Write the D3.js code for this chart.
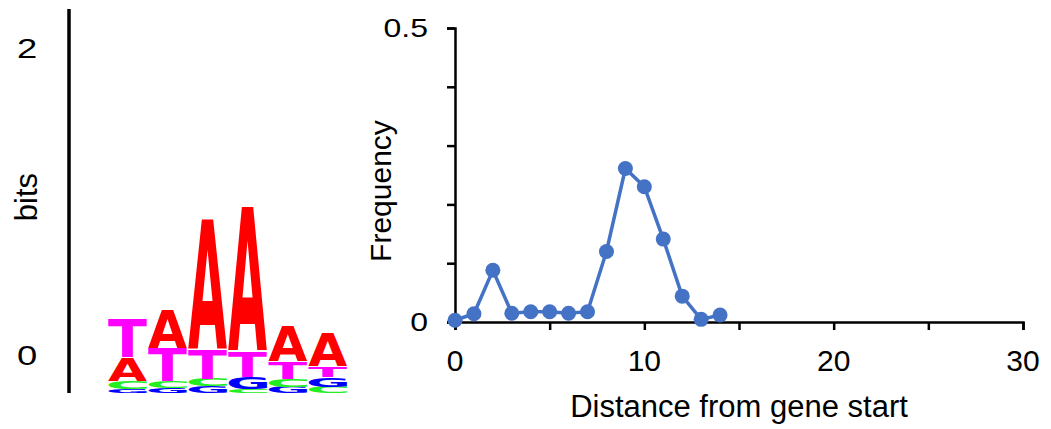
<!DOCTYPE html>
<html>
   <head>
     <meta charset="utf-8">
     <style>
     body {
       margin: 0;
       background: #fff;
     }
     svg text {
       font-family: "Liberation Sans", Arial, sans-serif;
       fill: #000;
     }
     .axis path, .axis line {
       stroke: #000;
       stroke-width: 2.5px;
     }
     .line {
       fill: none;
       stroke: #4472C4;
       stroke-width: 3.5px;
     }
     </style>
   </head>

   <body>
      <script src="https://d3js.org/d3.v7.min.js"></script>
      <script>

      // sequence logo data (bits per letter, one entry per position)
      var logoPos = [1, 2, 3, 4, 5, 6];
      var logoA = [0.157, 0.245, 0.853, 0.945, 0.233, 0.217];
      var logoT = [0.248, 0.215, 0.187, 0.161, 0.115, 0.068];
      var logoC = [0.050, 0.040, 0.048, 0.028, 0.052, 0.039];
      var logoG = [0.026, 0.035, 0.044, 0.076, 0.039, 0.064];
      var logoTicks = [0, 2];

      // distance histogram
      var distance = [0, 1, 2, 3, 4, 5, 6, 7, 8, 9, 10, 11, 12, 13, 14];
      var frequency = [0.003, 0.014, 0.088, 0.015, 0.0175, 0.0175, 0.015, 0.0175,
                       0.12, 0.261, 0.23, 0.141, 0.044, 0.0045, 0.012];
      var xTickLabels = [0, 10, 20, 30];
      var yTickLabels = [0, 0.5];

      var colors = {A: "#FF0000", T: "#FF00FF", C: "#22EE22", G: "#0000FF"};

      var svg = d3.select("body").append("svg")
          .attr("width", 1051)
          .attr("height", 429);

      // ---------- logo ----------
      var lx = d3.scaleBand().domain(logoPos).range([108, 347]).paddingInner(0.03);
      var ly = d3.scaleLinear().domain([0, 2]).range([393, 86]);

      svg.append("line")
          .attr("x1", 69).attr("x2", 69)
          .attr("y1", 9).attr("y2", 393)
          .attr("stroke", "#000")
          .attr("stroke-width", 3.5);

      // tick labels sit a little above their tick
      svg.selectAll(".logotick")
          .data(logoTicks)
        .enter().append("text")
          .attr("text-anchor", "middle")
          .attr("font-size", 28)
          .attr("transform", function(d) { return "translate(27," + (ly(d) - 38 + 10) + ") scale(1.3,1)"; })
          .text(function(d) { return d; });

      svg.append("text")
          .attr("transform", "translate(37,197) rotate(-90)")
          .attr("text-anchor", "middle")
          .attr("font-size", 31)
          .text("bits");

      // measure real glyph ink so each letter fills its box
      var letterFont = "'DejaVu Sans'";
      var ctx = document.createElement("canvas").getContext("2d");
      ctx.font = "bold 100px " + letterFont;
      var ink = {};
      "ACGT".split("").forEach(function(c) {
        var m = ctx.measureText(c);
        ink[c] = {l: m.actualBoundingBoxLeft, w: m.actualBoundingBoxLeft + m.actualBoundingBoxRight,
                  a: m.actualBoundingBoxAscent, h: m.actualBoundingBoxAscent + m.actualBoundingBoxDescent};
      });

      logoPos.forEach(function(p, i) {
        var stack = [
          {c: "A", v: logoA[i]}, {c: "T", v: logoT[i]},
          {c: "C", v: logoC[i]}, {c: "G", v: logoG[i]}
        ].sort(function(a, b) { return a.v - b.v; });
        var base = 0;
        stack.forEach(function(s) {
          var y0 = ly(base + s.v), h = ly(base) - ly(base + s.v);
          var g = ink[s.c];
          svg.append("text")
              .style("font-family", letterFont)
              .attr("font-size", 100)
              .attr("font-weight", "bold")
              .style("fill", colors[s.c])
              .attr("transform", "translate(" + lx(p) + "," + y0 + ") scale(" + (lx.bandwidth() / g.w) + "," + (h / g.h) + ") translate(" + g.l + "," + g.a + ")")
              .text(s.c);
          base += s.v;
        });
      });

      // ---------- line chart ----------
      var x = d3.scaleLinear().domain([0, 30]).range([455, 1023]);
      var y = d3.scaleLinear().domain([0, 0.5]).range([322, 28]);

      svg.append("g")
          .attr("class", "axis")
          .attr("transform", "translate(0,322)")
          .call(d3.axisBottom(x).tickValues(d3.range(0, 31, 5)).tickSize(8).tickSizeOuter(8).tickFormat(""));

      svg.append("g")
          .attr("class", "axis")
          .attr("transform", "translate(455,0)")
          .call(d3.axisLeft(y).tickValues(d3.range(0, 0.51, 0.1)).tickSize(8).tickSizeOuter(8).tickFormat(""));

      svg.selectAll(".xlab")
          .data(xTickLabels)
        .enter().append("text")
          .attr("x", function(d) { return x(d); })
          .attr("y", 371)
          .attr("text-anchor", "middle")
          .attr("font-size", 30)
          .text(function(d) { return d; });

      svg.selectAll(".ylab")
          .data(yTickLabels)
        .enter().append("text")
          .attr("text-anchor", "end")
          .attr("font-size", 25)
          .attr("transform", function(d) { return "translate(428," + (y(d) + 9) + ") scale(1.28,1)"; })
          .text(function(d) { return d; });

      svg.append("text")
          .attr("transform", "translate(391,191) rotate(-90)")
          .attr("text-anchor", "middle")
          .attr("font-size", 30)
          .text("Frequency");

      svg.append("text")
          .attr("x", 739)
          .attr("y", 417)
          .attr("text-anchor", "middle")
          .attr("font-size", 31)
          .text("Distance from gene start");

      var valueline = d3.line()
          .x(function(d, i) { return x(distance[i]); })
          .y(function(d) { return y(d); });

      svg.append("path")
          .data([frequency])
          .attr("class", "line")
          .attr("d", valueline);

      svg.selectAll(".dot")
          .data(frequency)
        .enter().append("circle")
          .attr("cx", function(d, i) { return x(distance[i]); })
          .attr("cy", function(d) { return y(d); })
          .attr("r", 7.5)
          .attr("fill", "#4472C4");

      </script>
   </body>
</html>
